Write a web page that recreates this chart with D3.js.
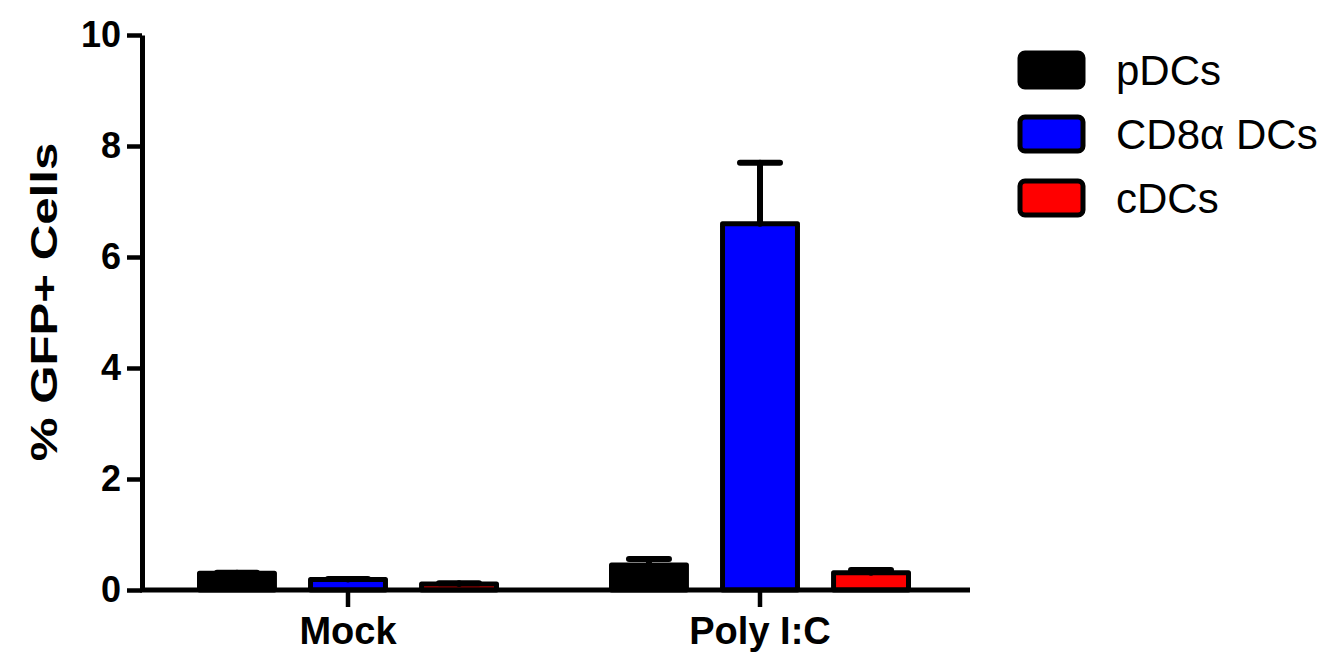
<!DOCTYPE html>
<html>
<head>
<meta charset="utf-8">
<script src="https://cdn.jsdelivr.net/npm/d3@7"></script>
<style>
  html, body { margin: 0; padding: 0; background: #fff; }
  svg { display: block; }
  text { font-family: "Liberation Sans", Arial, Helvetica, sans-serif; fill: #000; }
</style>
</head>
<body>
<svg id="chart" width="1342" height="659"></svg>
<script>
// Treatment groups on the x axis and the dendritic-cell subsets within each group
const groups = ["Mock", "Poly I:C"];
const cellTypes = ["pDCs", "CD8\u03B1 DCs", "cDCs"];
const cellColors = ["#000000", "#0000ff", "#ff0000"];

// Mean % GFP+ cells and SEM per subset
const mockMeans = [0.30, 0.19, 0.11];
const mockErrors = [0.01, 0.01, 0.01];
const polyMeans = [0.45, 6.6, 0.31];
const polyErrors = [0.11, 1.1, 0.05];

const yTicks = [0, 2, 4, 6, 8, 10];
const yTitle = "% GFP+ Cells";

const means = { "Mock": mockMeans, "Poly I:C": polyMeans };
const errors = { "Mock": mockErrors, "Poly I:C": polyErrors };
const rows = [];
groups.forEach(g => cellTypes.forEach((c, i) => {
  rows.push({ group: g, cell: c, color: cellColors[i], mean: means[g][i], err: errors[g][i] });
}));

const svg = d3.select("#chart");

const x0 = d3.scaleBand().domain(groups).range([142, 966]).padding(0);
const x1 = d3.scaleBand().domain(cellTypes)
  .range([x0.bandwidth() / 2 - 151, x0.bandwidth() / 2 + 151])
  .paddingInner(0.28).paddingOuter(0);
const y = d3.scaleLinear().domain([0, 10]).range([590, 35]);

const barStroke = 5;

// bars
const bars = svg.append("g");
bars.selectAll("rect")
  .data(rows)
  .join("rect")
  .attr("x", d => x0(d.group) + x1(d.cell) + barStroke / 2)
  .attr("y", d => y(d.mean))
  .attr("width", x1.bandwidth() - barStroke)
  .attr("height", d => y(0) - y(d.mean))
  .attr("fill", d => d.color)
  .attr("stroke", "#000")
  .attr("stroke-width", barStroke)
  .attr("stroke-linejoin", "round");

// upper error bars
const errG = svg.append("g")
  .attr("stroke", "#000")
  .attr("stroke-width", 6)
  .attr("stroke-linecap", "round");
rows.forEach(d => {
  const cx = x0(d.group) + x1(d.cell) + x1.bandwidth() / 2;
  errG.append("line")
    .attr("x1", cx).attr("x2", cx)
    .attr("y1", y(d.mean)).attr("y2", y(d.mean + d.err));
  errG.append("line")
    .attr("x1", cx - 20).attr("x2", cx + 20)
    .attr("y1", y(d.mean + d.err)).attr("y2", y(d.mean + d.err));
});

// x axis
const xAxis = svg.append("g")
  .attr("transform", `translate(0,${y(0)})`)
  .call(d3.axisBottom(x0).tickSizeInner(17).tickSizeOuter(0).tickPadding(10));
xAxis.select(".domain").attr("stroke-width", 5).attr("d", "M140,0H970");
xAxis.selectAll(".tick line").attr("stroke-width", 4.5);
xAxis.selectAll("text")
  .attr("font-size", 38).attr("font-weight", "bold")
  .attr("font-family", "'Liberation Sans', Arial, sans-serif");

// y axis
const yAxis = svg.append("g")
  .attr("transform", "translate(142,0)")
  .call(d3.axisLeft(y).tickValues(yTicks).tickFormat(d3.format("d"))
    .tickSizeInner(15).tickSizeOuter(0).tickPadding(6));
yAxis.select(".domain").attr("stroke-width", 5);
yAxis.selectAll(".tick line").attr("stroke-width", 4.5);
yAxis.selectAll("text")
  .attr("font-size", 36).attr("font-weight", "bold")
  .attr("font-family", "'Liberation Sans', Arial, sans-serif");

// y axis title
svg.append("text")
  .attr("transform", "translate(57,302) rotate(-90) scale(1.33,1)")
  .attr("text-anchor", "middle")
  .attr("font-size", 37)
  .attr("font-weight", "bold")
  .text(yTitle);

// legend
const legend = svg.append("g").attr("transform", "translate(1020,70)");
const item = legend.selectAll("g")
  .data(cellTypes)
  .join("g")
  .attr("transform", (d, i) => `translate(0,${i * 64})`);
item.append("rect")
  .attr("x", 0).attr("y", -17)
  .attr("width", 63).attr("height", 34)
  .attr("rx", 5)
  .attr("fill", (d, i) => cellColors[i])
  .attr("stroke", "#000")
  .attr("stroke-width", 5);
item.append("text")
  .attr("x", 96)
  .attr("y", 15)
  .attr("font-size", 42)
  .text(d => d);
</script>
</body>
</html>
